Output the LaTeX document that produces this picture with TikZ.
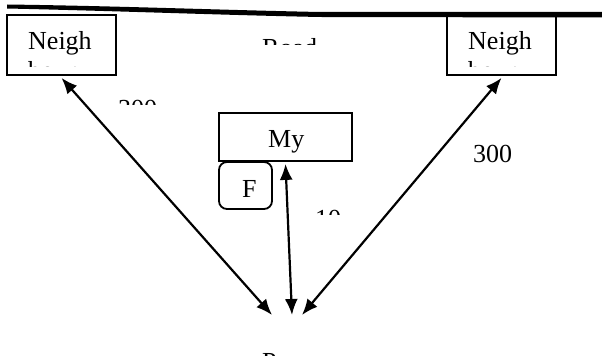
\documentclass[tikz,border=0pt]{standalone}
\usepackage{fontspec}
\setmainfont{Liberation Serif}
\usetikzlibrary{arrows.meta}
\begin{document}
\begin{tikzpicture}[x=1pt,y=-1pt,
  box/.style={draw, line width=1.8pt, inner sep=0pt},
  lbl/.style={inner sep=0pt, anchor=base west, font=\fontsize{26}{30}\selectfont},
  link/.style={line width=2.2pt, >={Latex[length=16pt,width=13pt]}, <->}]
\useasboundingbox (0,0) rectangle (602,358);
% road
\fill (7,4.5) .. controls (120,6) and (220,10) .. (320,12) -- (602,12) -- (602,17.5) -- (320,17) .. controls (220,15) and (120,11) .. (7,8.5) -- cycle;
% boxes
\node[box, minimum width=109pt, minimum height=60pt] (lb) at (61.5,45) {};
\node[box, minimum width=109pt, minimum height=60pt] (rb) at (501.5,45) {};
\node[box, minimum width=133pt, minimum height=48pt] (my) at (285.5,137) {};
\node[box, rounded corners=8pt, minimum width=53pt, minimum height=47pt] (fb) at (245.5,185.5) {};
% clipped texts
\begin{scope}
\clip (7,15) rectangle (116,67);
\node[lbl] (lt1) at (28,50) {Neigh};
\node[lbl] (lt2) at (28,80) {bour};
\end{scope}
\begin{scope}
\clip (447,15) rectangle (556,67);
\node[lbl] (rt1) at (468,50) {Neigh};
\node[lbl] (rt2) at (468,80) {bour};
\end{scope}
\begin{scope}
\clip (200,20) rectangle (400,45);
\node[lbl] (road) at (262,57) {Road};
\end{scope}
\begin{scope}
\clip (100,90) rectangle (200,104.5);
\node[lbl] (dl) at (118,117.5) {300};
\end{scope}
\node[lbl] (dr) at (473,163) {300};
\begin{scope}
\clip (300,200) rectangle (360,214);
\node[lbl] (dm) at (315,227) {10};
\end{scope}
\node[lbl] (mytxt) at (268,148) {My};
\node[lbl] (ftxt) at (242,197) {F};
\begin{scope}
\clip (240,340) rectangle (320,355);
\node[lbl] (bot) at (262,370) {P};
\end{scope}
% arrows
\coordinate (bl) at (272,315);
\coordinate (bm) at (292,315);
\coordinate (br) at (302,315);
\draw[link] ([yshift=-2pt]lb.south) -- (bl);
\draw[link] ([yshift=-2pt]my.south) -- (bm);
\draw[link] ([yshift=-2pt]rb.south) -- (br);
\end{tikzpicture}
\end{document}
